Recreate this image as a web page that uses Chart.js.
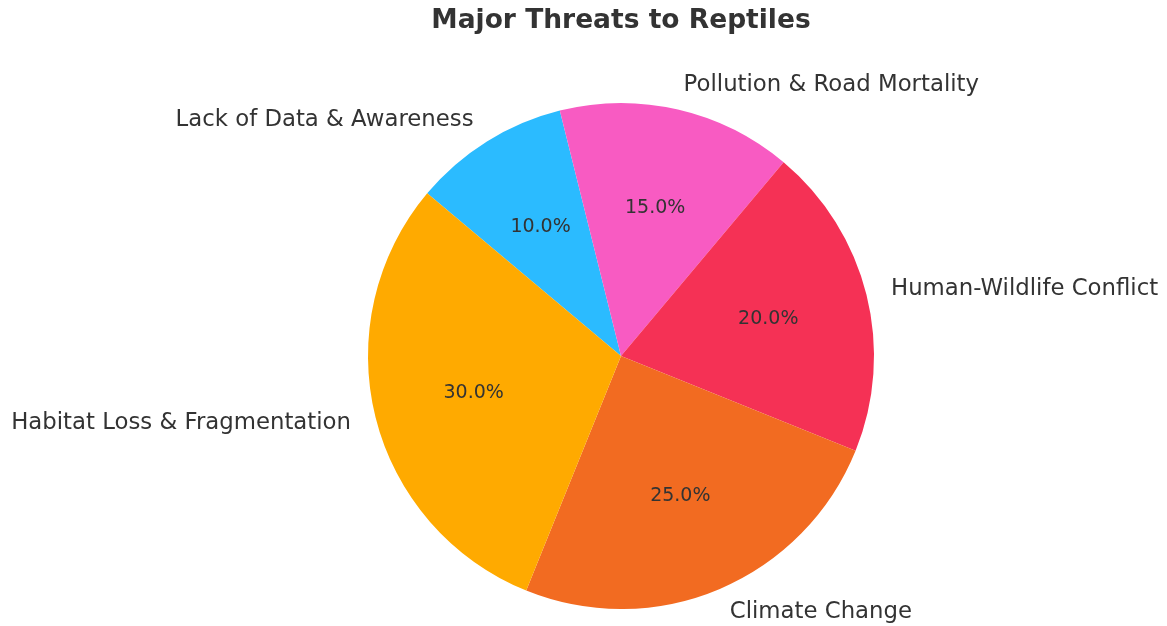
<!DOCTYPE html>
<html>
<head>
<meta charset="utf-8">
<script src="https://cdn.jsdelivr.net/npm/chart.js@4.4.1/dist/chart.umd.min.js"></script>
<style>
  body { margin: 0; background: #fff; }
  #chart { display: block; }
</style>
</head>
<body>
<canvas id="chart" width="1167" height="626"></canvas>
<script>
// data, in the order matplotlib laid it out (counter-clockwise from 140 deg)
const categories = ['Habitat Loss & Fragmentation', 'Climate Change', 'Human-Wildlife Conflict', 'Pollution & Road Mortality', 'Lack of Data & Awareness'];
const shares = [30, 25, 20, 15, 10];
const colors = ['#FFAA00', '#F26B21', '#F53155', '#F85BC2', '#2BBBFF'];

// Chart.js draws clockwise, so flip the order
const labels = categories.slice().reverse();
const values = shares.slice().reverse();
const bg = colors.slice().reverse();

const FONT = '"DejaVu Sans", sans-serif';
const TEXT = '#333333';

const pieLabels = {
  id: 'pieLabels',
  afterDraw(chart) {
    const ctx = chart.ctx;
    const meta = chart.getDatasetMeta(0);
    const total = values.reduce((a, b) => a + b, 0);
    ctx.save();
    // title
    ctx.fillStyle = TEXT;
    ctx.font = 'bold 26.5px ' + FONT;
    ctx.textAlign = 'center';
    ctx.textBaseline = 'middle';
    ctx.fillText('Major Threats to Reptiles', 621, 21);

    meta.data.forEach((arc, i) => {
      const mid = (arc.startAngle + arc.endAngle) / 2;
      const r = arc.outerRadius;
      const cx = arc.x, cy = arc.y;
      // outer label
      const lx = cx + Math.cos(mid) * r * 1.1;
      const ly = cy + Math.sin(mid) * r * 1.1;
      ctx.font = '22.8px ' + FONT;
      ctx.textAlign = Math.cos(mid) < 0 ? 'right' : 'left';
      ctx.textBaseline = 'middle';
      ctx.fillText(labels[i], lx, ly);
      // percentage
      const px = cx + Math.cos(mid) * r * 0.6;
      const py = cy + Math.sin(mid) * r * 0.6;
      ctx.font = '19px ' + FONT;
      ctx.textAlign = 'center';
      ctx.fillText((values[i] / total * 100).toFixed(1) + '%', px, py);
    });
    ctx.restore();
  }
};

new Chart(document.getElementById('chart').getContext('2d'), {
  type: 'pie',
  data: {
    labels: labels,
    datasets: [{
      data: values,
      backgroundColor: bg,
      borderWidth: 0
    }]
  },
  options: {
    responsive: false,
    animation: false,
    rotation: -50,
    layout: { padding: { top: 103, bottom: 17, left: 75, right: 0 } },
    plugins: {
      legend: { display: false },
      title: { display: false },
      tooltip: { enabled: false }
    }
  },
  plugins: [pieLabels]
});
</script>
</body>
</html>
